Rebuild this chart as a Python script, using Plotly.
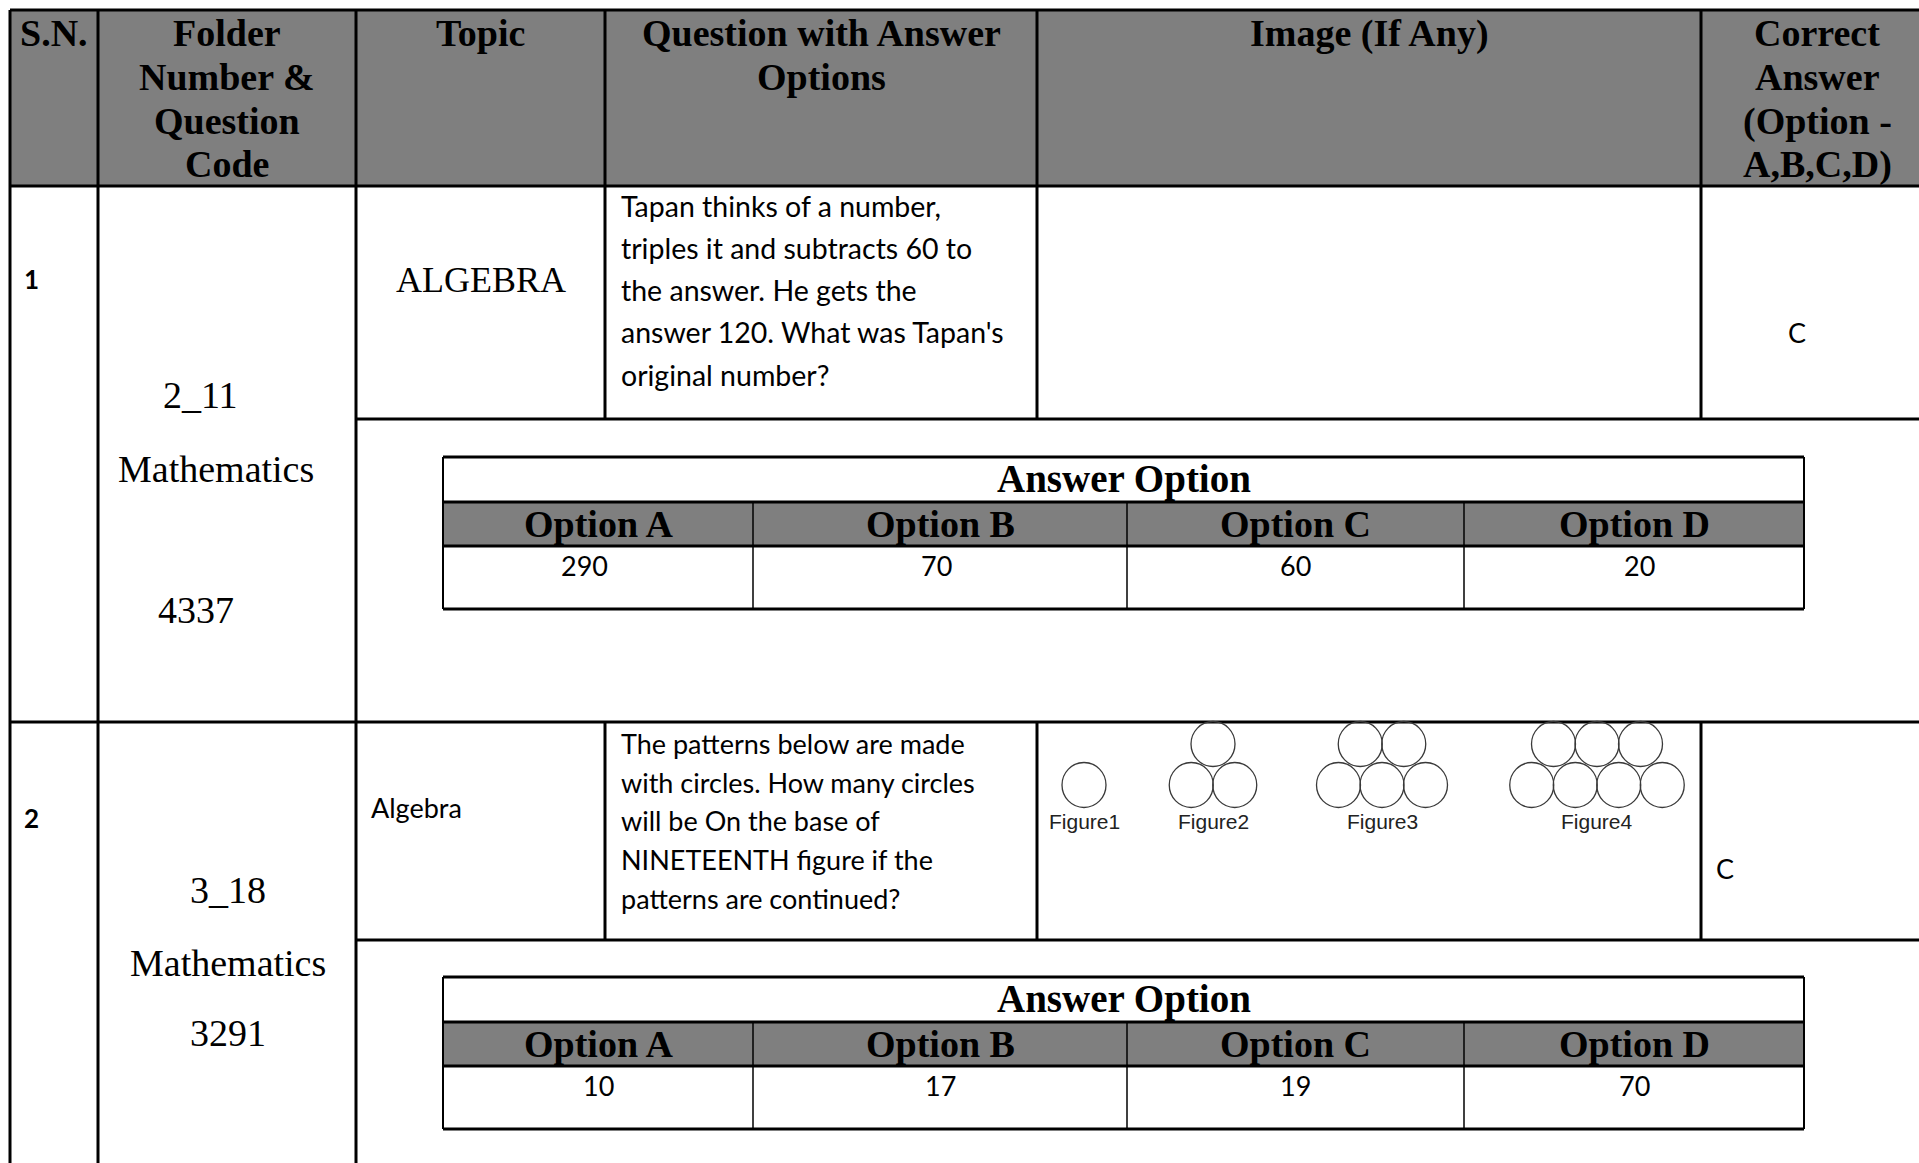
import plotly.graph_objects as go

# ---------------- data ----------------
header_labels = [
    ["S.N."],
    ["Folder", "Number &", "Question", "Code"],
    ["Topic"],
    ["Question with Answer", "Options"],
    ["Image (If Any)"],
    ["Correct", "Answer", "(Option -", "A,B,C,D)"],
]
serial_numbers = ["1", "2"]
folder_codes = ["2_11", "3_18"]
subjects = ["Mathematics", "Mathematics"]
question_codes = ["4337", "3291"]
topics = ["ALGEBRA", "Algebra"]
question_lines = [
    ["Tapan thinks of a number,", "triples it and subtracts 60 to",
     "the answer. He gets the", "answer 120. What was Tapan's", "original number?"],
    ["The patterns below are made", "with circles. How many circles",
     "will be On the base of", "NINETEENTH figure if the", "patterns are continued?"],
]
correct_answers = ["C", "C"]
answer_title = "Answer Option"
option_labels = ["Option A", "Option B", "Option C", "Option D"]
option_values = [["290", "70", "60", "20"], ["10", "17", "19", "70"]]
figure_labels = ["Figure1", "Figure2", "Figure3", "Figure4"]
figure_base_counts = [1, 2, 3, 4]

# ---------------- layout (pixel geometry) ----------------
W, H = 1919, 1163
COLS = [10, 98, 356, 605, 1037, 1701, 1930]
HEAD = (10, 186)
ROW_TOP = [186, 722]
ROW_INNER = [419, 940]
ROW_BOT = [722, 1170]
NEST_X = [443, 753, 1127, 1464, 1804]
NEST_TOP = [457, 977]
NEST_H = (45, 44, 63)

GRAY = "#7f7f7f"
BLACK = "#000000"
SERIF = "Liberation Serif"
SANS = "Lato"

shapes = []
ann = []


def line(x0, y0, x1, y1, w=3, color=BLACK):
    shapes.append(dict(type="line", xref="x", yref="y", x0=x0, y0=y0, x1=x1, y1=y1,
                       line=dict(color=color, width=w), layer="above"))


def rect(x0, y0, x1, y1, fill):
    shapes.append(dict(type="rect", xref="x", yref="y", x0=x0, y0=y0, x1=x1, y1=y1,
                       fillcolor=fill, line=dict(width=0), layer="below"))


def text(x, y, s, size, family, bold=False, anchor="center", color=BLACK):
    ann.append(dict(x=x, y=y, xref="x", yref="y", text=(f"<b>{s}</b>" if bold else s),
                    showarrow=False, xanchor=anchor, yanchor="middle",
                    font=dict(size=size, family=family, color=color)))


# header
rect(COLS[0], HEAD[0], W + 10, HEAD[1], GRAY)
head_line_y = [33, 77, 121, 164]
for i, lab in enumerate(header_labels):
    cx = (COLS[i] + COLS[i + 1]) / 2
    if i == 5:
        cx = 1817
    for j, s in enumerate(lab):
        text(cx, head_line_y[j], s, 38, SERIF, bold=True)

# grid lines
line(COLS[0], HEAD[0], W + 10, HEAD[0])
line(COLS[0], HEAD[1], W + 10, HEAD[1])
for r in range(2):
    line(COLS[2], ROW_INNER[r], W + 10, ROW_INNER[r])
    line(COLS[0], ROW_BOT[r], W + 10, ROW_BOT[r])
for c in (0, 1, 2):
    line(COLS[c], HEAD[0], COLS[c], H + 10)
for c in (3, 4, 5):
    line(COLS[c], HEAD[0], COLS[c], ROW_INNER[0])
    line(COLS[c], ROW_TOP[1], COLS[c], ROW_INNER[1])

# row text placement
sn_y = [279, 818]
folder_y = [[395, 469, 610], [890, 963, 1033]]
folder_x = [[200, 216, 196], [228, 228, 228]]
q_y = [[206, 248, 290, 332, 375], [743, 782, 820, 859, 898]]
q_size = [28.5, 27]

for r in range(2):
    text(22, sn_y[r], serial_numbers[r], 26, SANS, bold=True, anchor="left")
    for k, s in enumerate([folder_codes[r], subjects[r], question_codes[r]]):
        text(folder_x[r][k], folder_y[r][k], s, 38, SERIF)
    for k, s in enumerate(question_lines[r]):
        text(619, q_y[r][k], s, q_size[r], SANS, anchor="left")

text(481, 280, topics[0], 36, SERIF)
text(369, 807, topics[1], 27, SANS, anchor="left")
text(1797, 332, correct_answers[0], 27, SANS)
text(1714, 868, correct_answers[1], 27, SANS, anchor="left")

# nested answer-option tables
val_dx = [[-14, -4, 0, 5], [0, 0, 0, 0]]
for r in range(2):
    t0 = NEST_TOP[r]
    t1 = t0 + NEST_H[0]
    t2 = t1 + NEST_H[1]
    t3 = t2 + NEST_H[2]
    rect(NEST_X[0], t1, NEST_X[-1], t2, GRAY)
    line(NEST_X[0], t0, NEST_X[-1], t0, 3)
    line(NEST_X[0], t1, NEST_X[-1], t1, 3)
    line(NEST_X[0], t2, NEST_X[-1], t2, 3)
    line(NEST_X[0], t3, NEST_X[-1], t3, 3)
    line(NEST_X[0], t0, NEST_X[0], t3, 2)
    line(NEST_X[-1], t0, NEST_X[-1], t3, 2)
    for c in (1, 2, 3):
        line(NEST_X[c], t1, NEST_X[c], t3, 1.5)
    text((NEST_X[0] + NEST_X[-1]) / 2, t0 + 22, answer_title, 39, SERIF, bold=True)
    for c in range(4):
        cx = (NEST_X[c] + NEST_X[c + 1]) / 2
        text(cx, t1 + 22, option_labels[c], 38, SERIF, bold=True)
        text(cx + val_dx[r][c], t2 + 19, option_values[r][c], 27, SANS)

# circle pattern image (row 2)
fig_cx = [1084, 1213, 1382, 1597]
d = 43.5
rad_x, rad_y = 22, 22.5
base_y, top_y = 785, 744
for i, n in enumerate(figure_base_counts):
    centers = [(fig_cx[i] + (k - (n - 1) / 2) * d, base_y) for k in range(n)]
    centers += [(fig_cx[i] + (k - (n - 2) / 2) * d, top_y) for k in range(n - 1)]
    for (cx, cy) in centers:
        shapes.append(dict(type="circle", xref="x", yref="y",
                           x0=cx - rad_x, x1=cx + rad_x, y0=cy - rad_y, y1=cy + rad_y,
                           line=dict(color="#3a3a3a", width=1.3), layer="above"))
    text(fig_cx[i], 821, figure_labels[i], 21, "Liberation Sans", color="#222222")

fig = go.Figure()
fig.update_layout(
    width=W, height=H, autosize=False,
    margin=dict(l=0, r=0, t=0, b=0, pad=0),
    paper_bgcolor="white", plot_bgcolor="white",
    xaxis=dict(range=[0, W], visible=False, fixedrange=True),
    yaxis=dict(range=[H, 0], visible=False, fixedrange=True),
    shapes=shapes, annotations=ann, showlegend=False,
)
fig.write_html("out.html", include_plotlyjs=True, config={"displayModeBar": False},
               post_script="document.body.style.margin='0px';document.body.style.overflow='hidden';")
